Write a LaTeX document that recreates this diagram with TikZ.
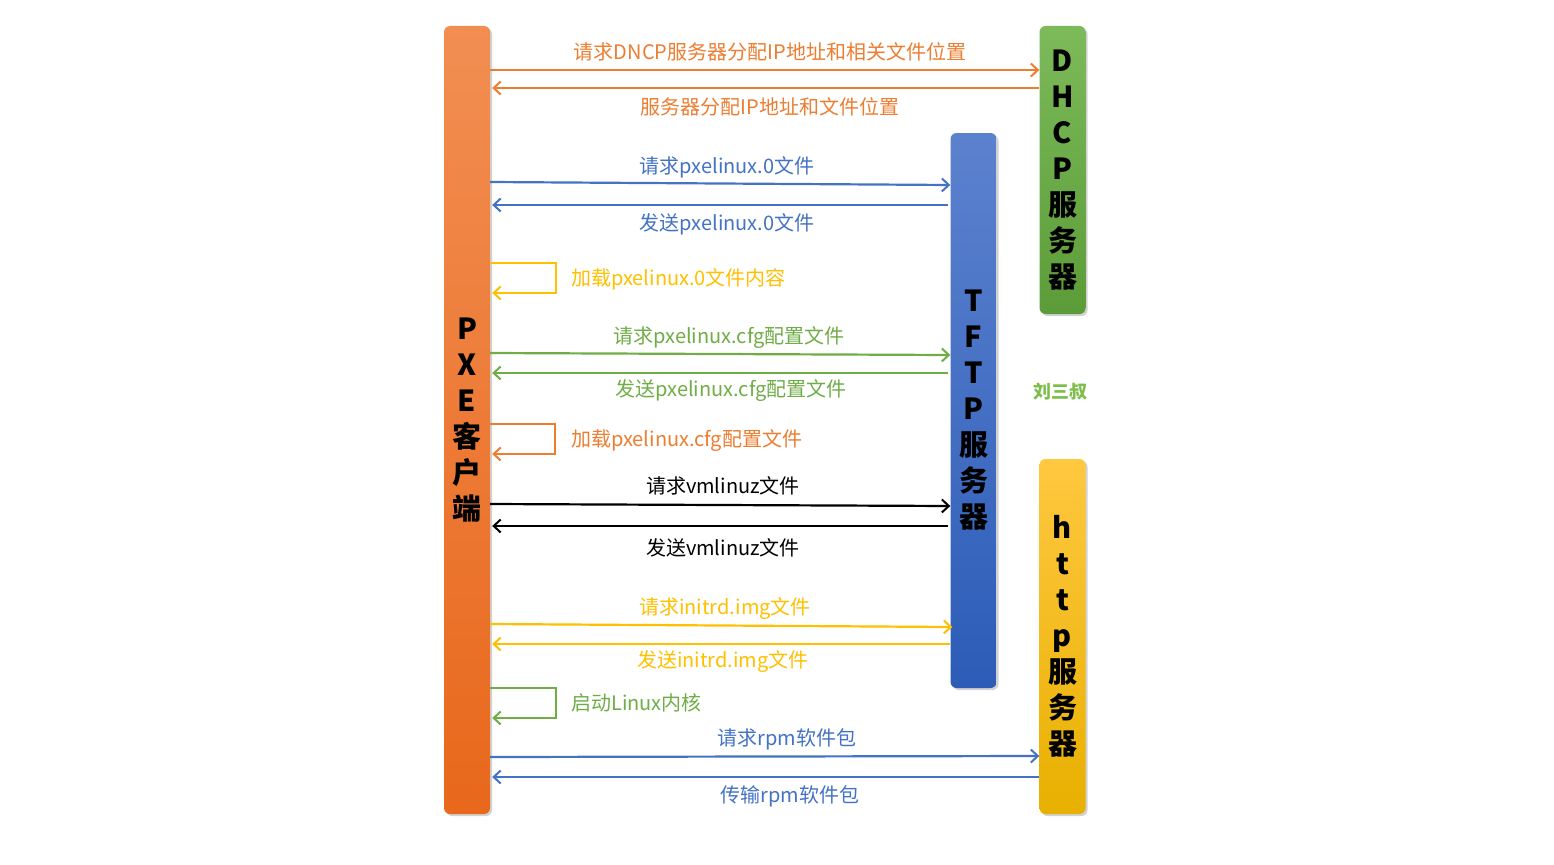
\documentclass[tikz,border=0pt]{standalone}
\usepackage{fontspec}
\setmainfont{Noto Sans CJK SC}
\usetikzlibrary{arrows.meta,shadows}
\definecolor{cOrange}{HTML}{ED7D31}
\definecolor{cBlue}{HTML}{4472C4}
\definecolor{cYellow}{HTML}{FFC000}
\definecolor{cGreen}{HTML}{70AD47}
\definecolor{cMark}{HTML}{7DBE4A}
\tikzset{
  bar/.style={rounded corners=6pt, minimum width=46pt, inner sep=0pt, align=center,
    font=\fontsize{29}{36}\selectfont\bfseries,
    drop shadow={opacity=0.35, shadow xshift=2pt, shadow yshift=-2pt}},
  msg/.style={line width=2.2pt, -{Straight Barb[length=7pt,width=13pt,line width=2pt]}},
  lbl/.style={font=\fontsize{20}{23}\selectfont, inner sep=0pt},
}
\begin{document}
\begin{tikzpicture}[x=1pt,y=-1pt]
\useasboundingbox[fill=white] (0,0) rectangle (1554,864);
% bars
\node[bar, minimum height=788pt, top color={rgb,255:red,242;green,142;blue,82}, bottom color={rgb,255:red,232;green,104;blue,28}] (pxe) at (467,420) {P\\X\\E\\客\\户\\端};
\node[bar, minimum height=288pt, top color={rgb,255:red,124;green,186;blue,90}, bottom color={rgb,255:red,92;green,156;blue,56}] (dhcp) at (1062.5,170) {D\\H\\C\\P\\服\\务\\器};
\node[bar, minimum height=555pt, top color={rgb,255:red,92;green,130;blue,206}, bottom color={rgb,255:red,44;green,92;blue,184}] (tftp) at (973.5,410.5) {T\\F\\T\\P\\服\\务\\器};
\node[bar, minimum height=355pt, top color={rgb,255:red,255;green,200;blue,64}, bottom color={rgb,255:red,232;green,176;blue,0}] (http) at (1062.5,636.5) {h\\t\\t\\p\\服\\务\\器};
% DHCP exchange
\draw[msg, cOrange] (pxe.east |- 0,70) -- (dhcp.west |- 0,70);
\node[lbl, text=cOrange] (l1) at (770,52) {请求DNCP服务器分配IP地址和相关文件位置};
\draw[msg, cOrange] (dhcp.west |- 0,88) -- ([xshift=2pt]pxe.east |- 0,88);
\node[lbl, text=cOrange] (l2) at (770,107) {服务器分配IP地址和文件位置};
% pxelinux.0
\draw[msg, cBlue] (pxe.east |- 0,182) -- (tftp.west |- 0,185);
\node[lbl, text=cBlue] (l3) at (727,167) {请求pxelinux.0文件};
\draw[msg, cBlue] ([xshift=-2pt]tftp.west |- 0,205) -- ([xshift=2pt]pxe.east |- 0,205);
\node[lbl, text=cBlue] (l4) at (727,224) {发送pxelinux.0文件};
\draw[msg, cYellow] (pxe.east |- 0,263) -- ++(66,0) -- ++(0,30) -- ([xshift=2pt]pxe.east |- 0,293);
\node[lbl, text=cYellow, anchor=west] (l5) at (571,279) {加载pxelinux.0文件内容};
% pxelinux.cfg
\draw[msg, cGreen] (pxe.east |- 0,353) -- (tftp.west |- 0,355);
\node[lbl, text=cGreen] (l6) at (729,338) {请求pxelinux.cfg配置文件};
\draw[msg, cGreen] ([xshift=-2pt]tftp.west |- 0,373) -- ([xshift=2pt]pxe.east |- 0,373);
\node[lbl, text=cGreen] (l7) at (731,391) {发送pxelinux.cfg配置文件};
\draw[msg, cOrange] (pxe.east |- 0,424) -- ++(65,0) -- ++(0,30) -- ([xshift=2pt]pxe.east |- 0,454);
\node[lbl, text=cOrange, anchor=west] (l8) at (571,441) {加载pxelinux.cfg配置文件};
% vmlinuz
\draw[msg, black] (pxe.east |- 0,504) -- (tftp.west |- 0,506);
\node[lbl, text=black] (l9) at (723,486) {请求vmlinuz文件};
\draw[msg, black] ([xshift=-2pt]tftp.west |- 0,526) -- ([xshift=2pt]pxe.east |- 0,526);
\node[lbl, text=black] (l10) at (723,548) {发送vmlinuz文件};
% initrd
\draw[msg, cYellow] (pxe.east |- 0,624) -- ([xshift=2pt]tftp.west |- 0,627);
\node[lbl, text=cYellow] (l11) at (725,609) {请求initrd.img文件};
\draw[msg, cYellow] (tftp.west |- 0,644) -- ([xshift=2pt]pxe.east |- 0,644);
\node[lbl, text=cYellow] (l12) at (723,662) {发送initrd.img文件};
\draw[msg, cGreen] (pxe.east |- 0,688) -- ++(66,0) -- ++(0,30) -- ([xshift=2pt]pxe.east |- 0,718);
\node[lbl, text=cGreen, anchor=west] (l13) at (571,703) {启动Linux内核};
% rpm
\draw[msg, cBlue] (pxe.east |- 0,757) -- (http.west |- 0,756);
\node[lbl, text=cBlue] (l14) at (787,739) {请求rpm软件包};
\draw[msg, cBlue] (http.west |- 0,777) -- ([xshift=2pt]pxe.east |- 0,777);
\node[lbl, text=cBlue] (l15) at (790,796) {传输rpm软件包};
% mark
\node[font=\fontsize{18}{20}\selectfont\bfseries, text=cMark, inner sep=0pt] (mark) at (1060,392) {刘三叔};
\end{tikzpicture}
\end{document}
